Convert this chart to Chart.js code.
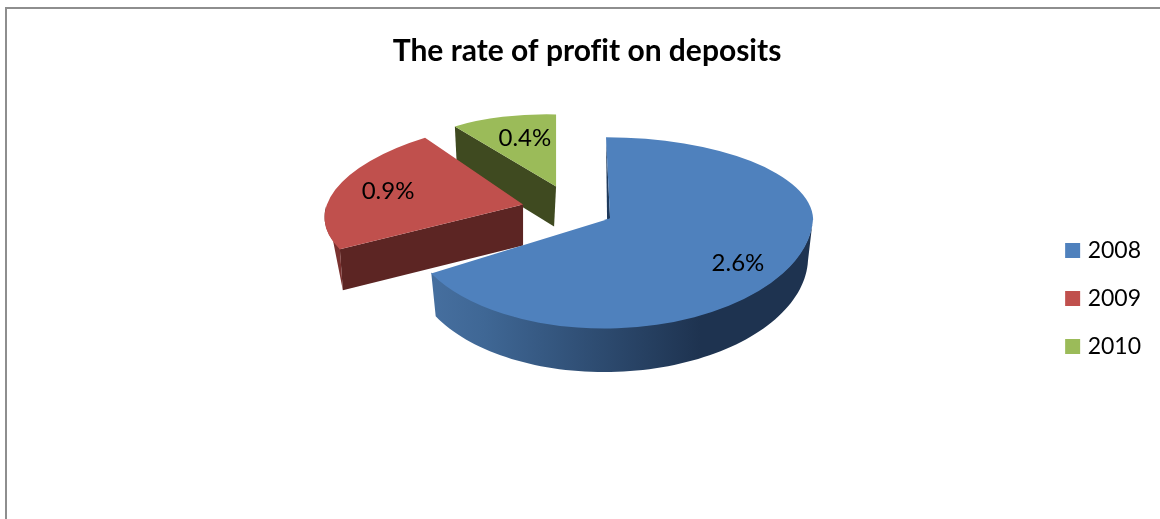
<!DOCTYPE html>
<html>
<head>
<meta charset="utf-8">
<style>html,body{margin:0;padding:0;background:#fff}canvas{display:block}</style>
<script src="https://cdn.jsdelivr.net/npm/chart.js@4"></script>
</head>
<body>
<canvas id="c" width="1160" height="519"></canvas>
<script>
const categories = ['2008', '2009', '2010'];
const values = [2.6, 0.9, 0.4];
const chartTitle = 'The rate of profit on deposits';

const faceColors = ['#4f81bd', '#c0504d', '#9bbb59'];
const sideColors = ['#1f3a5c', '#5c2523', '#3f4a20'];
const rimColors = [null, '#7a3230', '#3f4a20'];
const FONT = 'Lato, "Open Sans", sans-serif';

/* 3D look: per-slice pull from the pie centre, and projection of the flat arc */
const slicePull = [[76.5, -80], [-10.5, -94], [22.5, -112]];
const sliceProj = [
  {a: 1, c: 0, up: [0.02, 0.40], down: [-0.03, 0.542]},
  {a: 0.97, c: -0.012, up: [-0.125, 0.42], down: [-0.125, 0.42]},
  {a: 0.83, c: 0.02, up: [0, 0.355], down: [0, 0.355]}
];
const sliceDepth = [42, 41, 40];
const rimShrink = [0.975, 1, 1];
const rimStretch = 1.04;
const sideEdgeShift = [0, 3, 2];
const sideApexShift = [-3, 0, -2];
const labelRadius = [0.74, 0.74, 0.66];
const labelNudge = [[0, 4], [4, -2], [4, -2]];

function centre(el) { return el.getProps(['x', 'y'], true); }

const pie3d = {
  id: 'pie3d',
  beforeDraw(chart) {
    const g = chart.ctx;
    g.textRendering = 'optimizeSpeed';
    g.save();
    g.fillStyle = '#fff';
    g.fillRect(0, 0, chart.width, chart.height);
    g.strokeStyle = '#8e8e8e';
    g.lineWidth = 2;
    g.strokeRect(6, 8, chart.width + 20, chart.height + 20);
    g.restore();
  },
  beforeDatasetDraw(chart, args) {
    const g = chart.ctx;
    const arcs = args.meta.data;

    const apexOf = i => {
      const c = centre(arcs[i]);
      return [c.x + slicePull[i][0], c.y + slicePull[i][1]];
    };
    const pt = (i, ang, R) => {
      const p = sliceProj[i], ap = apexOf(i);
      const ux = R * Math.cos(ang), uy = R * Math.sin(ang);
      const m = uy < 0 ? p.up : p.down;
      return [ap[0] + p.a * ux + m[0] * uy, ap[1] + p.c * ux + m[1] * uy];
    };
    const drawFace = (i, m, clipY) => {
      const p = sliceProj[i], ap = apexOf(i), c = centre(arcs[i]);
      g.save();
      if (clipY) {
        g.beginPath();
        g.rect(0, clipY[0], chart.width, clipY[1] - clipY[0]);
        g.clip();
      }
      g.transform(p.a, p.c, m[0], m[1],
        ap[0] - p.a * c.x - m[0] * c.y,
        ap[1] - p.c * c.x - m[1] * c.y);
      arcs[i].draw(g, chart.chartArea);
      g.restore();
    };

    for (const i of [2, 1, 0]) {
      const el = arcs[i];
      const R = el.outerRadius, d = sliceDepth[i], ap = apexOf(i);
      const s = el.startAngle, e = el.endAngle;

      // radial side wall along the slice's starting edge
      const st = pt(i, s, R);
      const corner = [st[0] + sideEdgeShift[i], st[1] + d];
      g.beginPath();
      g.moveTo(ap[0], ap[1]);
      g.lineTo(st[0], st[1]);
      if (i === 0) {
        g.lineTo(ap[0] + sideApexShift[i], ap[1] + 2);
      } else {
        g.lineTo(corner[0], corner[1]);
        g.lineTo(ap[0] + sideApexShift[i], ap[1] + d);
      }
      g.closePath();
      g.fillStyle = sideColors[i];
      g.fill();

      // curved outer wall (front half of the ellipse only)
      const a0 = Math.max(s, 0), a1 = Math.min(e, Math.PI);
      if (a1 > a0) {
        const top = [], bot = [];
        for (let t = 0; t <= 80; t++) {
          const ang = a0 + (a1 - a0) * t / 80;
          const q = pt(i, ang, R);
          top.push([q[0], q[1] - 1]);
          const b = pt(i, ang, R * rimShrink[i]);
          bot.push([b[0], ap[1] + (b[1] - ap[1]) * rimStretch + d]);
        }
        g.beginPath();
        top.forEach((q, n) => n ? g.lineTo(q[0], q[1]) : g.moveTo(q[0], q[1]));
        if (i === 0) {
          bot.reverse().forEach(q => g.lineTo(q[0], q[1]));
        } else {
          g.lineTo(corner[0], corner[1]);
        }
        g.closePath();
        if (i === 0) {
          const gr = g.createLinearGradient(ap[0] - 180, 0, ap[0] + 90, 0);
          gr.addColorStop(0, '#466f9f');
          gr.addColorStop(0.2, '#3f6795');
          gr.addColorStop(1, '#1e3350');
          g.fillStyle = gr;
        } else {
          g.fillStyle = rimColors[i];
        }
        g.fill();
      }

      // top face, drawn by the library's own arc element
      const p = sliceProj[i];
      if (p.up[1] !== p.down[1] || p.up[0] !== p.down[0]) {
        const split = Math.round(ap[1]);
        drawFace(i, p.up, [0, split + 1]);
        drawFace(i, p.down, [split, chart.height]);
      } else {
        drawFace(i, p.up, null);
      }
    }

    // data labels
    g.save();
    g.fillStyle = '#000';
    g.font = '24px ' + FONT;
    g.textAlign = 'center';
    g.textBaseline = 'middle';
    arcs.forEach((el, i) => {
      const mid = (el.startAngle + el.endAngle) / 2;
      const q = pt(i, mid, el.outerRadius * labelRadius[i]);
      g.fillText(values[i].toFixed(1) + '%', q[0] + labelNudge[i][0], q[1] + labelNudge[i][1]);
    });
    g.restore();
    return false;
  }
};

new Chart(document.getElementById('c'), {
  type: 'pie',
  data: {
    labels: categories,
    datasets: [{data: values, backgroundColor: faceColors, borderWidth: 0}]
  },
  plugins: [pie3d],
  options: {
    responsive: false,
    animation: false,
    radius: 203,
    layout: {padding: {left: 23, right: 9, top: 0, bottom: 0}},
    plugins: {
      tooltip: {enabled: false},
      title: {
        display: true,
        text: chartTitle,
        color: '#000',
        font: {family: FONT, size: 30, weight: 'bold'},
        padding: {top: 33, bottom: 9}
      },
      legend: {
        position: 'right',
        fullSize: false,
        labels: {
          color: '#000',
          boxWidth: 7,
          boxHeight: 7,
          padding: 25,
          font: {family: FONT, size: 23},
          generateLabels(chart) {
            return categories.map((name, i) => ({
              text: name,
              index: i,
              fillStyle: faceColors[i],
              strokeStyle: faceColors[i],
              lineWidth: 8,
              lineJoin: 'miter',
              fontColor: '#000',
              hidden: false
            }));
          }
        }
      }
    }
  }
});
</script>
</body>
</html>
